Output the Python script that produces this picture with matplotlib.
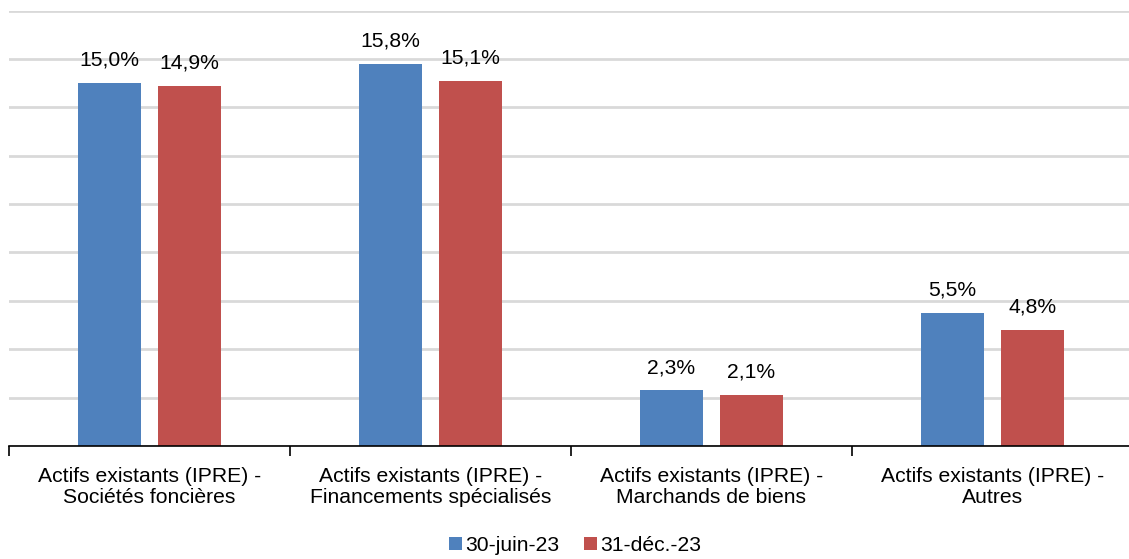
import numpy as np
import matplotlib.pyplot as plt
from matplotlib.ticker import FixedLocator, NullFormatter

plt.rcParams['font.family'] = ['Liberation Sans', 'DejaVu Sans']

categories = ["Actifs existants (IPRE) -\nSociétés foncières",
              "Actifs existants (IPRE) -\nFinancements spécialisés",
              "Actifs existants (IPRE) -\nMarchands de biens",
              "Actifs existants (IPRE) -\nAutres"]
series_names = ["30-juin-23", "31-déc.-23"]
jun23 = [15.0, 15.8, 2.3, 5.5]
dec23 = [14.9, 15.1, 2.1, 4.8]
colors = ["#4F81BD", "#C0504D"]

fs = 15.2

fig = plt.figure(figsize=(11.29, 5.59), dpi=100)
ax = fig.add_axes([9 / 1129, (559 - 446) / 559, 1124 / 1129, 435.5 / 559])

x = np.arange(len(categories))
width = 0.224
offset = 0.1425
for vals, off, col, name in zip([jun23, dec23], [-offset, offset], colors, series_names):
    bars = ax.bar(x + off, vals, width, color=col, label=name, zorder=3)
    for b, v in zip(bars, vals):
        ax.text(b.get_x() + b.get_width() / 2, v + 0.55, f"{v:.1f}%".replace(".", ","),
                ha="center", va="bottom", fontsize=fs)

ax.set_xlim(-0.5, len(categories) - 0.5)
ax.set_ylim(0, 18)
ax.set_yticks(np.arange(0, 19, 2))
ax.yaxis.grid(True, color="#d9d9d9", linewidth=2)
ax.tick_params(axis="y", left=False, labelleft=False)

# category separators as major ticks, labels as minor ticks
ax.xaxis.set_major_locator(FixedLocator(np.arange(-0.5, len(categories), 1)))
ax.xaxis.set_major_formatter(NullFormatter())
ax.set_xticks(x, minor=True)
ax.set_xticklabels(categories, minor=True, fontsize=fs, linespacing=1.15)
ax.tick_params(axis="x", which="major", length=7, width=1.2, color="black")
ax.tick_params(axis="x", which="minor", length=0, pad=15)

for s in ["top", "right", "left"]:
    ax.spines[s].set_visible(False)
ax.spines["bottom"].set_linewidth(1.2)
ax.spines["bottom"].set_zorder(4)

ax.legend(loc="center", bbox_to_anchor=(0.5 + 4 / 1124, -0.229), ncol=2, frameon=False,
          fontsize=fs, handlelength=0.6, handleheight=0.6, handletextpad=0.15,
          columnspacing=1.2)

fig.savefig("out.png", dpi=100)
